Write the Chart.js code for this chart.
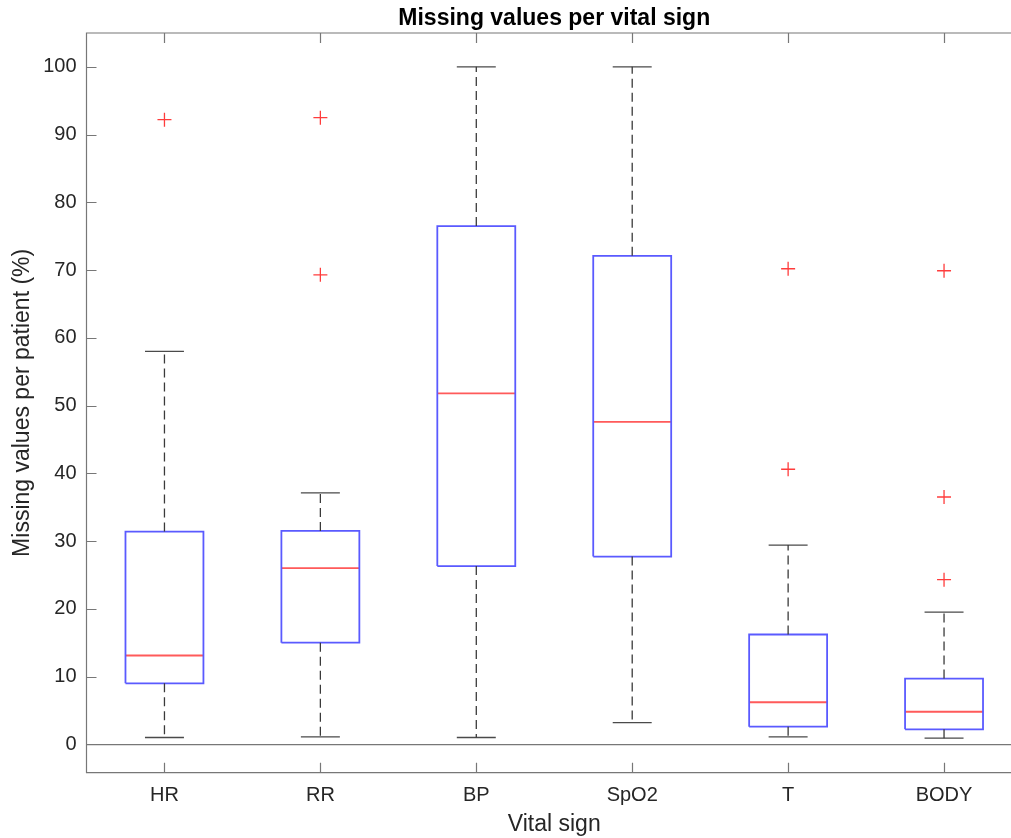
<!DOCTYPE html>
<html>
<head>
<meta charset="utf-8">
<script src="https://cdn.jsdelivr.net/npm/chart.js@4.4.1/dist/chart.umd.min.js"></script>
<style>
 html, body { margin: 0; padding: 0; background: #fff; overflow: hidden; }
 #wrap { width: 1040px; height: 838px; }
</style>
</head>
<body>
<div id="wrap"><canvas id="boxChart"></canvas></div>
<script>
// values (missing values per patient, %)
const categories = ['HR', 'RR', 'BP', 'SpO2', 'T', 'BODY'];
const lowerWhisker = [1.0, 1.1, 1.0, 3.2, 1.1, 0.9];
const q1 = [9.0, 15.0, 26.3, 27.7, 2.6, 2.2];
const median = [13.1, 26.0, 51.8, 47.6, 6.2, 4.8];
const q3 = [31.4, 31.5, 76.5, 72.1, 16.2, 9.7];
const upperWhisker = [58.0, 37.1, 100, 100, 29.4, 19.5];
const outliers = [[92.2], [92.5, 69.3], [], [], [70.2, 40.6], [69.9, 36.5, 24.3]];
const yTicks = [0, 10, 20, 30, 40, 50, 60, 70, 80, 90, 100];

const BOX_HALF = 0.25;
const CAP_HALF = 0.125;
const FONT = "'Liberation Sans', Arial, Helvetica, sans-serif";
const AXIS_COLOR = '#777777';

// build the line pieces for the boxes, whiskers and medians
let boxPts = [], medPts = [], whiskPts = [], capPts = [], outPts = [];
for (let i = 0; i < categories.length; i++) {
 const x = i + 1;
 boxPts.push({x: x - BOX_HALF, y: q1[i]}, {x: x + BOX_HALF, y: q1[i]},
  {x: x + BOX_HALF, y: q3[i]}, {x: x - BOX_HALF, y: q3[i]},
  {x: x - BOX_HALF, y: q1[i]}, {x: x, y: null});
 medPts.push({x: x - BOX_HALF, y: median[i]}, {x: x + BOX_HALF, y: median[i]}, {x: x, y: null});
 whiskPts.push({x: x, y: q3[i]}, {x: x, y: upperWhisker[i]}, {x: x, y: null},
  {x: x, y: q1[i]}, {x: x, y: lowerWhisker[i]}, {x: x, y: null});
 capPts.push({x: x - CAP_HALF, y: upperWhisker[i]}, {x: x + CAP_HALF, y: upperWhisker[i]}, {x: x, y: null},
  {x: x - CAP_HALF, y: lowerWhisker[i]}, {x: x + CAP_HALF, y: lowerWhisker[i]}, {x: x, y: null});
 for (let v of outliers[i]) {
  outPts.push({x: x, y: v});
 }
}

// frame and inward tick marks like the original figure
const framePlugin = {
 id: 'frame',
 afterDraw(chart) {
  const ctx = chart.ctx;
  const a = chart.chartArea;
  const xs = chart.scales.x;
  const ys = chart.scales.y;
  ctx.save();
  ctx.strokeStyle = AXIS_COLOR;
  ctx.lineWidth = 1.2;
  ctx.beginPath();
  ctx.moveTo(a.right, a.top);
  ctx.lineTo(a.left, a.top);
  ctx.lineTo(a.left, a.bottom);
  ctx.lineTo(a.right, a.bottom);
  for (let t of xs.ticks) {
   const px = Math.round(xs.getPixelForValue(t.value)) + 0.5;
   ctx.moveTo(px, a.bottom);
   ctx.lineTo(px, a.bottom - 10);
   ctx.moveTo(px, a.top);
   ctx.lineTo(px, a.top + 10);
  }
  for (let t of ys.ticks) {
   const py = Math.round(ys.getPixelForValue(t.value)) + 0.5;
   ctx.moveTo(a.left, py);
   ctx.lineTo(a.left + 10, py);
  }
  ctx.stroke();
  ctx.restore();
 }
};

const ctx = document.getElementById('boxChart').getContext('2d');
new Chart(ctx, {
 type: 'line',
 data: {
  datasets: [
   {
    label: 'whiskers',
    data: whiskPts,
    borderColor: '#3a3a3a',
    borderWidth: 1.3,
    borderDash: [9, 5],
    pointRadius: 0
   },
   {
    label: 'caps',
    data: capPts,
    borderColor: '#4a4a4a',
    borderWidth: 1.3,
    pointRadius: 0
   },
   {
    label: 'boxes',
    data: boxPts,
    borderColor: 'rgb(90, 90, 255)',
    borderWidth: 1.8,
    pointRadius: 0
   },
   {
    label: 'median',
    data: medPts,
    borderColor: 'rgb(255, 90, 90)',
    borderWidth: 1.8,
    pointRadius: 0
   },
   {
    type: 'scatter',
    label: 'outliers',
    data: outPts,
    showLine: false,
    pointStyle: 'cross',
    pointRadius: 7,
    pointBorderColor: 'rgb(255, 60, 60)',
    pointBorderWidth: 1.3
   }
  ]
 },
 options: {
  responsive: true,
  maintainAspectRatio: false,
  animation: false,
  layout: {padding: {left: 7, right: 18, top: 0, bottom: 0}},
  plugins: {
   legend: {display: false},
   tooltip: {enabled: false},
   title: {
    display: true,
    text: 'Missing values per vital sign',
    fullSize: false,
    color: '#000',
    font: {family: FONT, size: 23, weight: 'bold', lineHeight: 1.1},
    padding: {top: 6.3, bottom: 1.4}
   }
  },
  scales: {
   x: {
    type: 'linear',
    min: 0.5,
    max: 6.5,
    afterBuildTicks: (scale) => {
     scale.ticks = categories.map((c, i) => ({value: i + 1}));
    },
    afterFit: (scale) => {
     scale.height = 65.3;
    },
    ticks: {
     callback: (v) => categories[v - 1],
     color: '#262626',
     font: {family: FONT, size: 20},
     padding: 11,
     autoSkip: false,
     maxRotation: 0
    },
    grid: {display: false, drawTicks: false},
    border: {display: false},
    title: {
     display: true,
     text: 'Vital sign',
     color: '#262626',
     font: {family: FONT, size: 23},
     padding: {top: 3, bottom: 0}
    }
   },
   y: {
    min: -4.2,
    max: 105,
    afterBuildTicks: (scale) => {
     scale.ticks = yTicks.map(v => ({value: v}));
    },
    afterFit: (scale) => {
     scale.width = 79.5;
    },
    ticks: {
     color: '#262626',
     font: {family: FONT, size: 20},
     padding: 10
    },
    grid: {
     drawTicks: false,
     lineWidth: 1.2,
     color: (c) => (c.tick && c.tick.value === 0) ? AXIS_COLOR : 'rgba(0,0,0,0)'
    },
    border: {display: false},
    title: {
     display: true,
     text: 'Missing values per patient (%)',
     color: '#262626',
     font: {family: FONT, size: 23},
     padding: {top: 2, bottom: 0}
    }
   }
  }
 },
 plugins: [framePlugin]
});
</script>
</body>
</html>
